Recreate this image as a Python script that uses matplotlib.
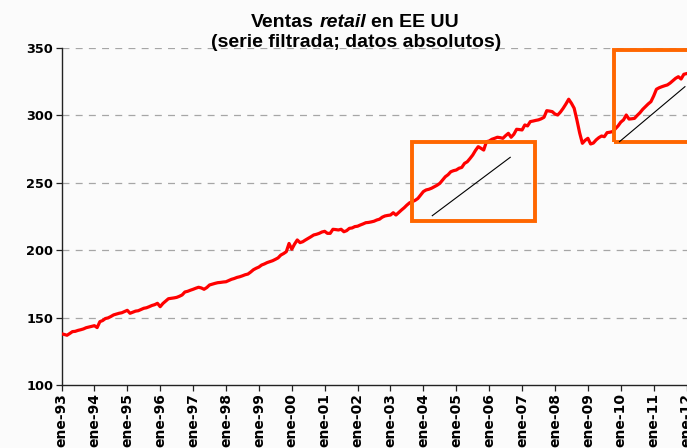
import numpy as np
import matplotlib
matplotlib.use("Agg")
import matplotlib.pyplot as plt
from matplotlib.patches import Rectangle

plt.rcParams['font.family'] = ['DejaVu Sans']
plt.rcParams['lines.scale_dashes'] = False

# Monthly filtered retail sales, Jan 1993 .. Jan 2012
v1993 = [138.0, 137.5, 136.9, 138.2, 139.6, 139.8, 140.5, 141.0, 141.6, 142.5, 143.0, 143.5]
v1994 = [144.0, 142.6, 147.0, 147.8, 149.3, 149.8, 150.8, 152.0, 152.6, 153.2, 153.6, 154.5]
v1995 = [155.4, 153.2, 154.0, 154.8, 155.1, 156.0, 156.9, 157.3, 158.1, 159.0, 159.6, 160.6]
v1996 = [158.1, 160.5, 162.3, 164.0, 164.3, 164.6, 165.0, 165.8, 166.8, 169.0, 169.5, 170.3]
v1997 = [171.0, 171.8, 172.5, 172.0, 171.0, 172.3, 174.2, 174.8, 175.4, 175.9, 176.1, 176.4]
v1998 = [176.6, 177.5, 178.4, 179.0, 179.8, 180.3, 181.0, 181.8, 182.3, 183.8, 185.5, 186.6]
v1999 = [187.5, 189.0, 189.8, 190.8, 191.5, 192.2, 193.2, 194.3, 196.4, 197.5, 198.9, 205.0]
v2000 = [200.7, 204.5, 207.6, 205.6, 206.3, 207.6, 208.8, 210.0, 211.3, 211.8, 212.5, 213.5]
v2001 = [214.0, 212.5, 212.5, 215.5, 215.3, 215.0, 215.5, 213.7, 214.5, 216.2, 216.5, 217.5]
v2002 = [217.8, 218.7, 219.5, 220.4, 220.6, 221.0, 221.5, 222.4, 223.0, 224.5, 225.4, 225.8]
v2003 = [226.1, 227.8, 226.1, 228.0, 229.8, 231.5, 233.5, 235.2, 236.0, 237.0, 238.4, 241.0]
v2004 = [243.5, 244.7, 245.2, 246.0, 247.1, 248.2, 249.6, 252.0, 254.5, 256.0, 258.2, 259.0]
v2005 = [259.5, 260.8, 261.4, 264.4, 265.6, 268.0, 270.6, 274.0, 276.8, 275.6, 274.3, 280.5]
v2006 = [281.0, 282.3, 283.0, 283.8, 283.5, 283.0, 285.0, 286.7, 283.8, 286.0, 289.7, 289.5]
v2007 = [289.2, 292.9, 292.2, 295.4, 295.8, 296.3, 296.7, 297.5, 298.6, 303.5, 303.2, 302.8]
v2008 = [301.0, 300.3, 302.5, 305.3, 308.5, 312.0, 309.0, 305.3, 296.6, 287.0, 279.3, 281.5]
v2009 = [283.0, 278.8, 279.5, 281.8, 283.5, 284.7, 284.2, 287.2, 287.5, 288.0, 290.0, 292.2]
v2010 = [295.0, 296.7, 300.3, 297.3, 297.5, 297.8, 300.0, 302.0, 304.5, 306.5, 308.5, 310.2]
v2011 = [314.4, 319.4, 320.5, 321.3, 322.0, 322.6, 324.0, 325.7, 327.5, 328.7, 327.0, 330.5]
v2012 = [331.0]

sales = (v1993 + v1994 + v1995 + v1996 + v1997 + v1998 + v1999 + v2000 + v2001 + v2002 +
         v2003 + v2004 + v2005 + v2006 + v2007 + v2008 + v2009 + v2010 + v2011 + v2012)

years = list(range(1993, 2013))
tick_labels = ["ene-%02d" % (y % 100) for y in years]
y_ticks = [100, 150, 200, 250, 300, 350]

# highlight boxes (x0, y0, x1, y1) in data units, and trend segments
box1 = (2003.65, 222.0, 2007.40, 280.0)
box2 = (2009.80, 280.5, 2012.80, 348.5)
trend1 = ((2004.27, 225.6), (2006.64, 268.9))
trend2 = ((2009.96, 280.5), (2011.95, 321.3))

fig = plt.figure(figsize=(6.87, 4.48), dpi=100)
fig.patch.set_facecolor('#fbfbfb')
ax = fig.add_axes([61.5 / 687, 63 / 448, 633.3 / 687, 337 / 448])
ax.set_facecolor('none')

t = 1993 + np.arange(len(sales)) / 12.0
ax.plot(t, sales, color='#ff0000', lw=2.3, zorder=3, solid_joinstyle='round')

ax.set_xlim(1993, 2012.25)
ax.set_ylim(100, 350)
ax.set_yticks(y_ticks)
ax.set_xticks(years)
ax.set_xticklabels(tick_labels, rotation=90, fontsize=10, fontweight='bold')
ax.set_yticklabels([str(v) for v in y_ticks], fontsize=9.3, fontweight='bold')
ax.tick_params(axis='both', direction='out', length=4, width=0.9, color='#222222', pad=2)
for yv in y_ticks[1:]:
    ax.axhline(yv, color='#a6a6a6', lw=0.9, dashes=(5, 4.5), zorder=1)
for s in ['top', 'right']:
    ax.spines[s].set_visible(False)
for s in ['left', 'bottom']:
    ax.spines[s].set_linewidth(1.0)
    ax.spines[s].set_color('#222222')

for b in (box1, box2):
    ax.add_patch(Rectangle((b[0], b[1]), b[2] - b[0], b[3] - b[1], fill=False,
                           edgecolor='#ff6600', lw=2.8, zorder=4, clip_on=False))
for tr in (trend1, trend2):
    ax.plot([tr[0][0], tr[1][0]], [tr[0][1], tr[1][1]], color='black', lw=0.8, zorder=5)

# Title with italic word
tfam = ['Liberation Sans', 'DejaVu Sans']
fs = 14
y1 = 1 - 27 / 448
y2 = 1 - 47 / 448
t1 = fig.text(0, y1, "Ventas", fontsize=fs, fontweight='bold', family=tfam, ha='left', va='baseline')
t2 = fig.text(0, y1, "retail", fontsize=fs, fontweight='bold', style='italic', family=tfam,
              ha='left', va='baseline')
t3 = fig.text(0, y1, "en EE UU", fontsize=fs, fontweight='bold', family=tfam, ha='left', va='baseline')
fig.text(356 / 687, y2, "(serie filtrada; datos absolutos)", fontsize=fs, family=tfam,
         fontweight='bold', ha='center', va='baseline')
fig.canvas.draw()
r = fig.canvas.get_renderer()
sp = fs * 0.28 * 100 / 72.0 / 687
w1 = t1.get_window_extent(r).width / 687
w2 = t2.get_window_extent(r).width / 687
w3 = t3.get_window_extent(r).width / 687
total = w1 + w2 + w3 + 2 * sp
x0 = 355 / 687 - total / 2
t1.set_x(x0)
t2.set_x(x0 + w1 + sp)
t3.set_x(x0 + w1 + sp + w2 + sp)

fig.savefig("out.png", dpi=100)
